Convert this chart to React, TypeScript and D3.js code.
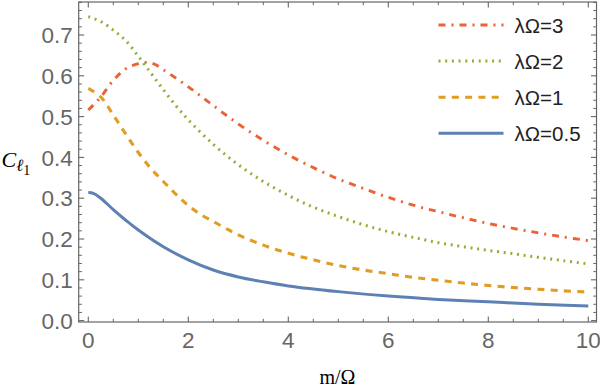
import React from "react";
import * as d3 from "d3";

const W = 600;
const H = 389;

// m/Ω sample points and C values
const mBlue = [0, 0.1, 0.25, 0.5, 0.75, 1, 1.5, 2, 2.5, 3, 3.5, 4, 5, 6, 7, 8, 9, 10];
const cBlue = [0.314, 0.312, 0.3, 0.272, 0.246, 0.222, 0.181, 0.149, 0.124, 0.107, 0.095, 0.085, 0.071, 0.06, 0.052, 0.046, 0.04, 0.036];

const mOrange = [0, 0.25, 0.5, 0.75, 1, 1.25, 1.5, 1.75, 2, 2.25, 2.5, 2.75, 3, 3.5, 4, 4.5, 5, 5.5, 6, 6.5, 7, 7.5, 8, 8.5, 9, 9.5, 10];
const cOrange = [0.569, 0.548, 0.504, 0.457, 0.412, 0.373, 0.341, 0.31, 0.282, 0.26, 0.243, 0.226, 0.21, 0.185, 0.165, 0.149, 0.135, 0.124, 0.115, 0.106, 0.099, 0.092, 0.086, 0.081, 0.077, 0.073, 0.07];

const mGreen = [0, 0.25, 0.5, 0.75, 1, 1.25, 1.5, 1.75, 2, 2.5, 3, 3.5, 4, 4.5, 5, 5.5, 6, 6.5, 7, 7.5, 8, 8.5, 9, 9.5, 10];
const cGreen = [0.745, 0.733, 0.712, 0.686, 0.648, 0.607, 0.566, 0.527, 0.492, 0.432, 0.382, 0.341, 0.307, 0.278, 0.255, 0.235, 0.218, 0.204, 0.191, 0.181, 0.172, 0.164, 0.155, 0.147, 0.139];

const mRed = [0, 0.25, 0.5, 0.75, 1, 1.15, 1.3, 1.5, 2, 2.5, 3, 3.5, 4, 4.5, 5, 5.5, 6, 6.5, 7, 7.5, 8, 8.5, 9, 9.5, 10];
const cRed = [0.516, 0.548, 0.589, 0.617, 0.63, 0.633, 0.63, 0.615, 0.573, 0.527, 0.482, 0.442, 0.406, 0.375, 0.347, 0.324, 0.302, 0.283, 0.267, 0.252, 0.238, 0.226, 0.215, 0.205, 0.196];

const seriesLabels = ["λΩ=3", "λΩ=2", "λΩ=1", "λΩ=0.5"];
const xTickLabels = ["0", "2", "4", "6", "8", "10"];
const yTickLabels = ["0.0", "0.1", "0.2", "0.3", "0.4", "0.5", "0.6", "0.7"];

const frame = { left: 78.7, right: 596.5, top: 2, bottom: 322 };

export default function App() {
  const x = d3.scaleLinear().domain([0, 10]).range([88.3, 588.3]);
  const y = d3.scaleLinear().domain([0, 0.7]).range([320.6, 35]);

  const line = d3
    .line<[number, number]>()
    .x((d) => x(d[0]))
    .y((d) => y(d[1]))
    .curve(d3.curveCatmullRom.alpha(0.5));

  const zip = (ms: number[], cs: number[]) => ms.map((m, i) => [m, cs[i]] as [number, number]);

  const series = [
    { label: seriesLabels[0], data: zip(mRed, cRed), color: "#EB6235", dash: "7,6,2,6", width: 2.9 },
    { label: seriesLabels[1], data: zip(mGreen, cGreen), color: "#8FB032", dash: "2,4.7", width: 3 },
    { label: seriesLabels[2], data: zip(mOrange, cOrange), color: "#E19C24", dash: "7,6.3", width: 3.1 },
    { label: seriesLabels[3], data: zip(mBlue, cBlue), color: "#5E81B5", dash: "none", width: 3 },
  ];

  const xMajor = xTickLabels.map((t) => +t);
  const xMinor = d3.range(0, 10.01, 0.5).filter((v) => Math.abs(v / 2 - Math.round(v / 2)) > 1e-6);
  const yMajor = yTickLabels.map((t) => +t);
  const yMinor = d3.range(0, 0.781, 0.02).filter((v) => Math.abs(v * 10 - Math.round(v * 10)) > 1e-6);

  const frameColor = "#666666";
  const labelColor = "#666666";
  const major = 5.5;
  const minor = 3.2;

  return (
    <svg width={W} height={H} style={{ position: "absolute", left: 0, top: 0, background: "#fff" }}>
      {series.map((s) => (
        <path
          key={s.label}
          d={line(s.data) || ""}
          fill="none"
          stroke={s.color}
          strokeWidth={s.width}
          strokeDasharray={s.dash}
        />
      ))}

      {/* frame */}
      <rect
        x={frame.left}
        y={frame.top}
        width={frame.right - frame.left}
        height={frame.bottom - frame.top}
        fill="none"
        stroke={frameColor}
        strokeWidth={1.2}
      />

      {/* x ticks */}
      {xMajor.map((v) => (
        <g key={"xM" + v}>
          <line x1={x(v)} x2={x(v)} y1={frame.bottom} y2={frame.bottom - major} stroke={frameColor} strokeWidth={1.1} />
          <line x1={x(v)} x2={x(v)} y1={frame.top} y2={frame.top + major} stroke={frameColor} strokeWidth={1.1} />
        </g>
      ))}
      {xMinor.map((v) => (
        <g key={"xm" + v}>
          <line x1={x(v)} x2={x(v)} y1={frame.bottom} y2={frame.bottom - minor} stroke={frameColor} strokeWidth={1} />
          <line x1={x(v)} x2={x(v)} y1={frame.top} y2={frame.top + minor} stroke={frameColor} strokeWidth={1} />
        </g>
      ))}
      {/* y ticks */}
      {yMajor.map((v) => (
        <g key={"yM" + v}>
          <line x1={frame.left} x2={frame.left + major} y1={y(v)} y2={y(v)} stroke={frameColor} strokeWidth={1.1} />
          <line x1={frame.right} x2={frame.right - major} y1={y(v)} y2={y(v)} stroke={frameColor} strokeWidth={1.1} />
        </g>
      ))}
      {yMinor.map((v) => (
        <g key={"ym" + v}>
          <line x1={frame.left} x2={frame.left + minor} y1={y(v)} y2={y(v)} stroke={frameColor} strokeWidth={1} />
          <line x1={frame.right} x2={frame.right - minor} y1={y(v)} y2={y(v)} stroke={frameColor} strokeWidth={1} />
        </g>
      ))}

      {/* tick labels */}
      <g fontFamily="'Liberation Sans', Arial, sans-serif" fontSize={22.5} fill={labelColor}>
        {xTickLabels.map((t) => (
          <text key={"xl" + t} x={x(+t)} y={348.3} textAnchor="middle">
            {t}
          </text>
        ))}
        {yTickLabels.map((t) => (
          <text key={"yl" + t} x={72.7} y={y(+t) + 8.2} textAnchor="end">
            {t}
          </text>
        ))}
      </g>

      {/* axis labels */}
      <text x={337.5} y={384} textAnchor="middle" fontFamily="'Liberation Serif', 'Times New Roman', serif" fontSize={20} fill="#000">
        m/Ω
      </text>
      <text x={1.5} y={166.5} fontFamily="'Liberation Serif', 'Times New Roman', serif" fontSize={22} fill="#000">
        <tspan fontStyle="italic">C</tspan>
        <tspan fontStyle="italic" fontSize={17} dy={4}>ℓ</tspan>
        <tspan fontSize={14} dy={4}>1</tspan>
      </text>

      {/* legend */}
      {series.map((s, i) => {
        const ly = 25 + i * 36.1;
        return (
          <g key={"lg" + s.label}>
            <line x1={438.5} x2={503.5} y1={ly} y2={ly} stroke={s.color} strokeWidth={s.width} strokeDasharray={s.dash} />
            <text x={514.5} y={ly + 8} fontFamily="'Liberation Sans', Arial, sans-serif" fontSize={20.5} fill="#222">
              {s.label}
            </text>
          </g>
        );
      })}
    </svg>
  );
}
